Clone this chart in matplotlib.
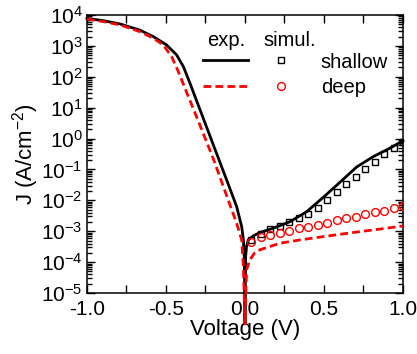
import matplotlib
matplotlib.use("Agg")
import matplotlib.pyplot as plt
import numpy as np
from matplotlib.legend_handler import HandlerTuple
from matplotlib.ticker import FixedLocator, LogLocator, LogFormatterMathtext, NullFormatter

plt.rcParams["font.family"] = ["Liberation Sans", "DejaVu Sans"]
plt.rcParams["mathtext.fontset"] = "custom"
plt.rcParams["mathtext.rm"] = "Liberation Sans"
plt.rcParams["mathtext.it"] = "Liberation Sans:italic"
plt.rcParams["axes.unicode_minus"] = False

# experiment, shallow (black solid): voltage and log10(J)
v_exp_shallow = [-1.0, -0.9, -0.79, -0.665, -0.58, -0.496, -0.433, -0.39, -0.348, -0.306,
                 -0.274, -0.2, -0.116, -0.053, -0.021, -0.01, -0.004, 0.0, 0.004, 0.01,
                 0.021, 0.053, 0.095, 0.18, 0.285, 0.39, 0.496, 0.60, 0.707, 0.81,
                 0.918, 1.0]
logj_exp_shallow = [3.89, 3.82, 3.71, 3.51, 3.30, 3.03, 2.71, 2.33, 1.79, 1.22,
                    0.79, -0.21, -1.34, -2.20, -2.85, -3.28, -3.9, -6.0, -3.82, -3.49,
                    -3.28, -3.15, -3.04, -2.90, -2.69, -2.37, -1.90, -1.42, -0.92, -0.59,
                    -0.31, -0.07]

# experiment, deep (red dashed)
v_exp_deep = [-1.0, -0.9, -0.79, -0.665, -0.58, -0.517, -0.464, -0.422, -0.38, -0.337,
              -0.295, -0.2, -0.116, -0.053, -0.021, -0.01, 0.0, 0.01, 0.03, 0.06,
              0.095, 0.22, 0.35, 0.475, 0.60, 0.73, 0.855, 1.0]
logj_exp_deep = [3.87, 3.79, 3.68, 3.46, 3.25, 3.03, 2.65, 2.17, 1.63, 1.09,
                 0.56, -0.66, -1.85, -2.74, -3.28, -4.14, -6.0, -4.25, -3.93, -3.71,
                 -3.60, -3.39, -3.28, -3.19, -3.10, -3.01, -2.93, -2.83]

# simulation points
v_sim = [0.04, 0.10, 0.16, 0.22, 0.28, 0.34, 0.40, 0.46, 0.52, 0.58,
         0.64, 0.70, 0.76, 0.82, 0.88, 0.94, 1.00]
logj_sim_shallow = [-3.3, -3.09, -2.94, -2.82, -2.69, -2.58, -2.44, -2.26, -1.99, -1.74,
                    -1.47, -1.23, -0.98, -0.75, -0.51, -0.31, -0.12]
logj_sim_deep = [-3.34, -3.20, -3.12, -3.07, -2.99, -2.90, -2.85, -2.80, -2.72, -2.63,
                 -2.58, -2.53, -2.45, -2.38, -2.33, -2.26, -2.18]

fig = plt.figure(figsize=(4.17, 3.54), dpi=100)
ax = fig.add_axes([0.2086, 0.1723, 0.7578, 0.7853])

red = "#ff0000"
l_sh, = ax.plot(v_exp_shallow, 10 ** np.array(logj_exp_shallow), color="black", lw=2.0,
                clip_on=False, zorder=3)
l_dp, = ax.plot(v_exp_deep, 10 ** np.array(logj_exp_deep), color=red, lw=2.0,
                ls=(0, (2.8, 1.5)), clip_on=False, zorder=3)
m_sh, = ax.plot(v_sim, 10 ** np.array(logj_sim_shallow), ls="none", marker="s", ms=4.8,
                mfc="none", mec="black", mew=1.0, zorder=4)
m_dp, = ax.plot(v_sim, 10 ** np.array(logj_sim_deep), ls="none", marker="o", ms=5.6,
                mfc="none", mec=red, mew=1.0, zorder=4)

ax.set_yscale("log")
ax.set_xlim(-1.0, 1.0)
ax.set_ylim(1e-5, 1e4)

ax.xaxis.set_major_locator(FixedLocator([-1.0, -0.5, 0.0, 0.5, 1.0]))
ax.xaxis.set_minor_locator(FixedLocator([-0.75, -0.25, 0.25, 0.75]))
ax.set_xticklabels(["-1.0", "-0.5", "0.0", "0.5", "1.0"])
ax.yaxis.set_major_locator(LogLocator(base=10, numticks=20))
ax.yaxis.set_minor_locator(LogLocator(base=10, subs=np.arange(2, 10), numticks=20))
ax.yaxis.set_major_formatter(LogFormatterMathtext())
ax.yaxis.set_minor_formatter(NullFormatter())

ax.tick_params(which="both", direction="in", top=True, right=True, width=1.0,
               labelsize=15)
ax.tick_params(axis="x", which="both", length=6, pad=5)
ax.tick_params(axis="y", which="major", length=6, pad=3)
ax.tick_params(axis="y", which="minor", length=3.5)
for s in ax.spines.values():
    s.set_linewidth(1.1)

ax.set_xlabel("Voltage (V)", fontsize=16, labelpad=0)
ax.set_ylabel("J (A/cm$^{-2}$)", fontsize=16, labelpad=0)

leg = ax.legend([(l_sh, m_sh), (l_dp, m_dp)], ["shallow", "deep"],
                handler_map={tuple: HandlerTuple(ndivide=None, pad=0.5)},
                loc="upper left", bbox_to_anchor=(0.367, 0.865), frameon=False,
                fontsize=14.5, numpoints=1, handlelength=5.0, handletextpad=0.85,
                borderpad=0, borderaxespad=0, labelspacing=0.3)
ax.text(0.44, 0.91, "exp.", transform=ax.transAxes, fontsize=14.5,
        ha="center", va="center")
ax.text(0.642, 0.91, "simul.", transform=ax.transAxes, fontsize=14.5,
        ha="center", va="center")

fig.savefig("out.png", dpi=100)
